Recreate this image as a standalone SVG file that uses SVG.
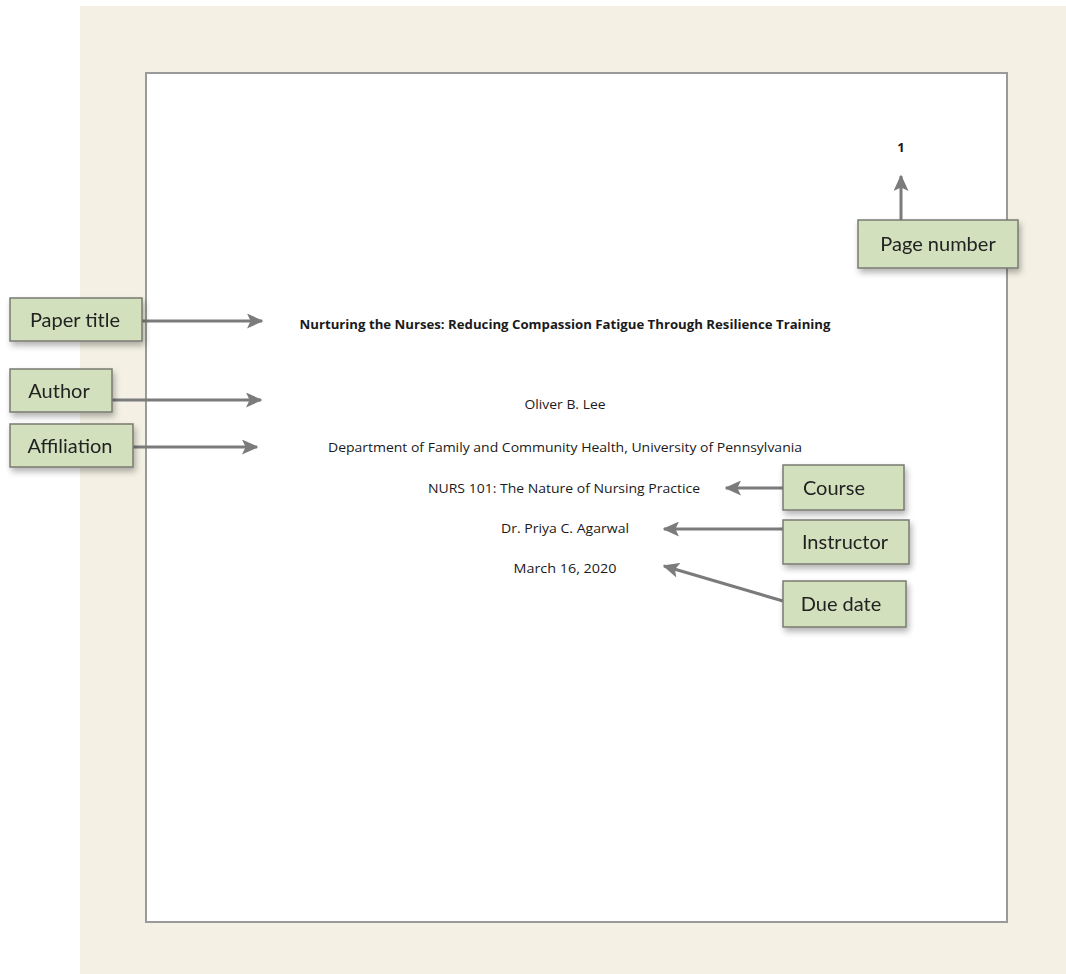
<svg xmlns="http://www.w3.org/2000/svg" width="1066" height="974" viewBox="0 0 1066 974">
<style>
.lbl{fill:#d2e0bd;stroke:#7a7a72;stroke-width:1.5}
.lt{font-family:Lato,"Noto Sans","Liberation Sans",sans-serif;font-size:20px;fill:#222;text-anchor:middle}
.pt{font-family:"Open Sans","Noto Sans","Liberation Sans",sans-serif;font-size:13px;fill:#1a1a1a;text-anchor:middle}
.con{stroke:#7b7b7b;stroke-width:3;fill:none}
</style>
<defs>
<marker id="ah" markerWidth="5.5" markerHeight="5" refX="5" refY="2.5" orient="auto" markerUnits="strokeWidth">
<path d="M0,0 L5.5,2.5 L0,5 L1.2,2.5 Z" fill="#7b7b7b"/>
</marker>
<filter id="sh" x="-20%" y="-20%" width="150%" height="160%">
<feGaussianBlur in="SourceAlpha" stdDeviation="3"/>
<feOffset dx="2" dy="4"/>
<feComponentTransfer><feFuncA type="linear" slope="0.3"/></feComponentTransfer>
<feMerge><feMergeNode/><feMergeNode in="SourceGraphic"/></feMerge>
</filter>
</defs>
<rect x="0" y="0" width="1066" height="974" fill="#ffffff"/>
<rect x="80" y="6" width="986" height="968" fill="#f4f1e4"/>
<g id="page">
<rect x="146" y="73" width="861" height="849" fill="#ffffff" stroke="#9a9a9a" stroke-width="2"/>
<text x="901" y="152" class="pt" font-size="12" font-weight="bold">1</text>
<text x="565" y="329" class="pt" font-weight="bold" textLength="531" lengthAdjust="spacingAndGlyphs">Nurturing the Nurses: Reducing Compassion Fatigue Through Resilience Training</text>
<text x="565" y="409" class="pt" textLength="81" lengthAdjust="spacingAndGlyphs">Oliver B. Lee</text>
<text x="565" y="452" class="pt" textLength="474" lengthAdjust="spacingAndGlyphs">Department of Family and Community Health, University of Pennsylvania</text>
<text x="564" y="493" class="pt" textLength="272" lengthAdjust="spacingAndGlyphs">NURS 101: The Nature of Nursing Practice</text>
<text x="565" y="533" class="pt" textLength="128" lengthAdjust="spacingAndGlyphs">Dr. Priya C. Agarwal</text>
<text x="565" y="573" class="pt" textLength="103" lengthAdjust="spacingAndGlyphs">March 16, 2020</text>
</g>
<g id="connectors">
<line x1="901" y1="220" x2="901" y2="176" class="con" marker-end="url(#ah)"/>
<line x1="142" y1="321" x2="262" y2="321" class="con" marker-end="url(#ah)"/>
<line x1="112" y1="400" x2="261" y2="400" class="con" marker-end="url(#ah)"/>
<line x1="133" y1="447" x2="257" y2="447" class="con" marker-end="url(#ah)"/>
<line x1="783" y1="488" x2="726" y2="488" class="con" marker-end="url(#ah)"/>
<line x1="783" y1="529" x2="664" y2="529" class="con" marker-end="url(#ah)"/>
<line x1="783" y1="601" x2="664" y2="566" class="con" marker-end="url(#ah)"/>
</g>
<g id="node-page-number" filter="url(#sh)">
<rect x="858" y="220" width="160" height="48" class="lbl"/>
<text x="938" y="251" class="lt">Page number</text>
</g>
<g id="node-paper-title" filter="url(#sh)">
<rect x="10" y="298" width="132" height="43" class="lbl"/>
<text x="75" y="327" class="lt">Paper title</text>
</g>
<g id="node-author" filter="url(#sh)">
<rect x="10" y="369" width="102" height="43" class="lbl"/>
<text x="59" y="398" class="lt">Author</text>
</g>
<g id="node-affiliation" filter="url(#sh)">
<rect x="10" y="424" width="123" height="43" class="lbl"/>
<text x="70" y="453" class="lt">Affiliation</text>
</g>
<g id="node-course" filter="url(#sh)">
<rect x="783" y="465" width="121" height="45" class="lbl"/>
<text x="834" y="495" class="lt">Course</text>
</g>
<g id="node-instructor" filter="url(#sh)">
<rect x="783" y="520" width="126" height="44" class="lbl"/>
<text x="845" y="549" class="lt">Instructor</text>
</g>
<g id="node-due-date" filter="url(#sh)">
<rect x="783" y="581" width="123" height="46" class="lbl"/>
<text x="841" y="611" class="lt">Due date</text>
</g>
</svg>
